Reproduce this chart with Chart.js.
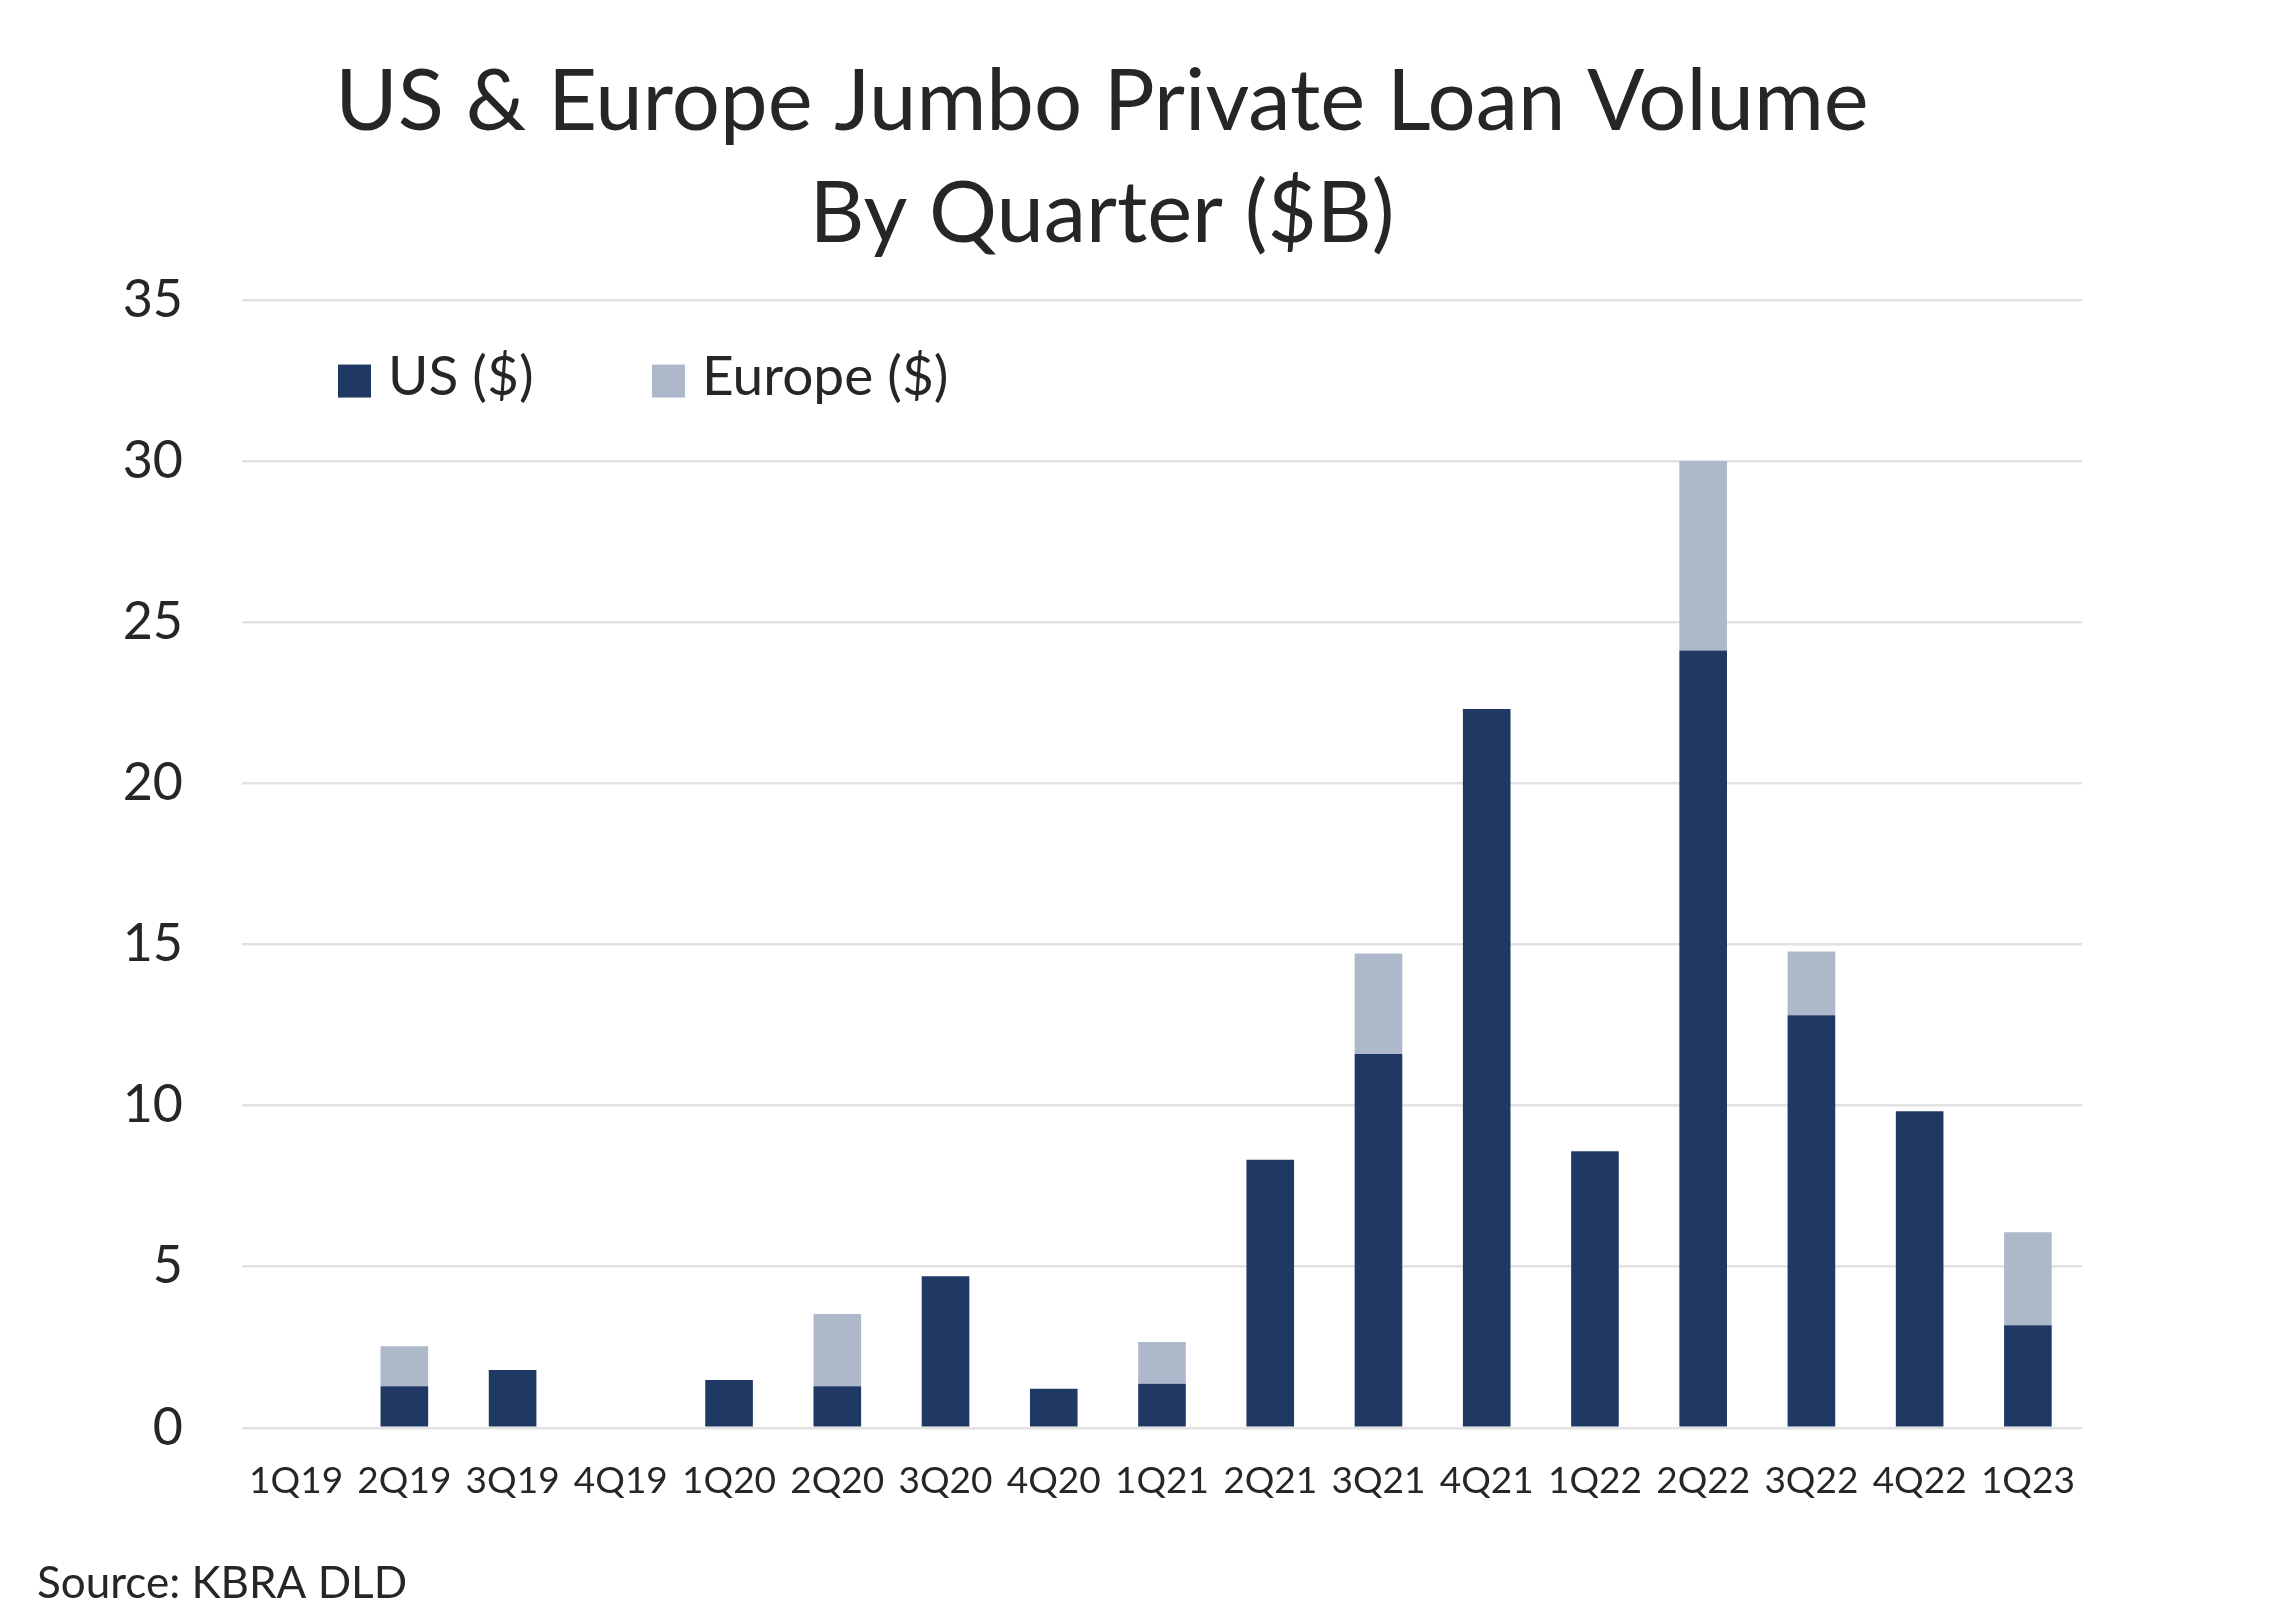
<!DOCTYPE html>
<html>
<head>
<meta charset="utf-8">
<script src="https://cdn.jsdelivr.net/npm/chart.js@4.4.0/dist/chart.umd.min.js"></script>
<style>
  html, body { margin: 0; padding: 0; background: #ffffff; }
  #wrap { width: 2287px; height: 1613px; }
</style>
</head>
<body>
<div id="wrap"><canvas id="c" width="2287" height="1613"></canvas></div>
<script>
const quarters = ['1Q19','2Q19','3Q19','4Q19','1Q20','2Q20','3Q20','4Q20','1Q21','2Q21','3Q21','4Q21','1Q22','2Q22','3Q22','4Q22','1Q23'];
const usValues = [0, 1.29, 1.79, 0, 1.48, 1.29, 4.70, 1.21, 1.37, 8.32, 11.60, 22.31, 8.58, 24.12, 12.80, 9.82, 3.18];
const europeValues = [0, 1.24, 0, 0, 0, 2.24, 0, 0, 1.29, 0, 3.12, 0, 0, 5.88, 1.98, 0, 2.89];
const seriesNames = ['US ($)', 'Europe ($)'];
const yTicks = [0, 5, 10, 15, 20, 25, 30, 35];
const titleLines = ['US & Europe Jumbo Private Loan Volume', 'By Quarter ($B)'];
const sourceText = 'Source: KBRA DLD';

const FONT = 'Lato, "Open Sans", "Noto Sans", sans-serif';
const TEXT = '#262626';
const US_COLOR = '#203864';
const EU_COLOR = '#adb9ca';
const legendOffsets = [96, 410];

const insideLegend = {
  id: 'insideLegend',
  afterDraw(chart) {
    const ctx = chart.ctx;
    const area = chart.chartArea;
    const y = chart.scales.y.getPixelForValue(32.5);
    ctx.save();
    ctx.font = '55px ' + FONT;
    ctx.textBaseline = 'middle';
    ctx.textAlign = 'left';
    chart.data.datasets.forEach((ds, i) => {
      const x = area.left + legendOffsets[i];
      ctx.fillStyle = ds.backgroundColor;
      ctx.fillRect(x, y - 16, 33, 33);
      ctx.fillStyle = TEXT;
      ctx.fillText(ds.label, x + 50, y - 3);
    });
    ctx.restore();
  }
};

new Chart(document.getElementById('c'), {
  type: 'bar',
  data: {
    labels: quarters,
    datasets: [
      { label: seriesNames[0], data: usValues, backgroundColor: US_COLOR, stack: 's' },
      { label: seriesNames[1], data: europeValues, backgroundColor: EU_COLOR, stack: 's' }
    ]
  },
  options: {
    responsive: false,
    animation: false,
    devicePixelRatio: 1,
    layout: { padding: { left: 37, right: 120, top: 0, bottom: 0 } },
    datasets: { bar: { categoryPercentage: 1.0, barPercentage: 0.44 } },
    plugins: {
      legend: { display: false },
      tooltip: { enabled: false },
      title: {
        display: true,
        text: titleLines,
        color: TEXT,
        font: { family: FONT, size: 85, weight: 'normal', lineHeight: 112/85 },
        padding: { top: 47, bottom: 29 }
      },
      subtitle: {
        display: true,
        position: 'bottom',
        align: 'start',
        text: sourceText,
        color: TEXT,
        font: { family: FONT, size: 44, weight: 'normal', lineHeight: 1.2 },
        padding: { top: 31, bottom: 3 }
      }
    },
    scales: {
      x: {
        stacked: true,
        grid: { display: false },
        border: { display: false },
        ticks: {
          color: TEXT,
          font: { family: FONT, size: 37, lineHeight: 1.2 },
          padding: 23,
          maxRotation: 0,
          autoSkip: false
        }
      },
      y: {
        stacked: true,
        min: 0,
        max: 35,
        afterBuildTicks(scale) { scale.ticks = yTicks.map(v => ({ value: v })); },
        afterFit(scale) { scale.width = 205; },
        grid: { color: '#e2e2e2', lineWidth: 2.5, drawTicks: false },
        border: { display: false },
        ticks: {
          color: TEXT,
          font: { family: FONT, size: 52 },
          padding: 59
        }
      },
      yR: {
        position: 'right',
        display: true,
        grid: { display: false },
        border: { display: false },
        ticks: { display: false },
        afterFit(scale) { scale.width = 85; }
      }
    }
  },
  plugins: [insideLegend]
});
</script>
</body>
</html>
